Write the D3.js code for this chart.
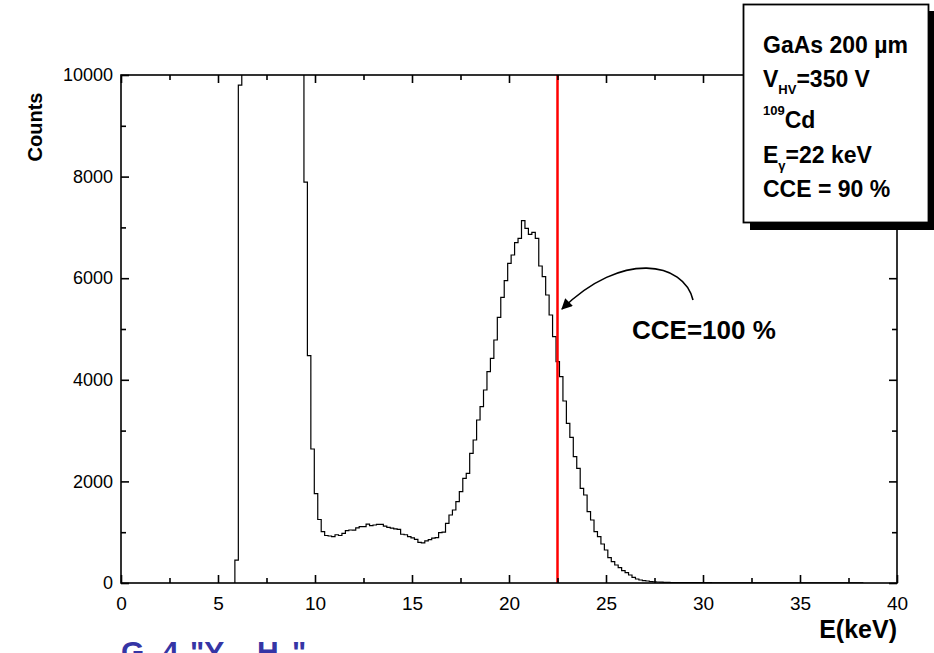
<!DOCTYPE html>
<html>
<head>
<meta charset="utf-8">
<script src="https://cdn.jsdelivr.net/npm/d3@7/dist/d3.min.js"></script>
<style>
  html, body { margin: 0; padding: 0; background: #ffffff; }
  svg { display: block; }
  text { font-family: "Liberation Sans", Arial, Helvetica, sans-serif; }
</style>
</head>
<body>
<svg id="chart" width="934" height="653"></svg>
<script>
// ---------------- data ----------------
const binStart = 5.87;      // keV, left edge of first bin
const binWidth = 0.178;     // keV
const counts = [
  450, 9800,
  14000, 21000, 30000, 38000, 45000, 50000, 52000, 50000, 46000, 41000,
  36000, 31000, 26000, 22000, 18500, 15500, 13000, 11000,
  7890, 4474, 2638, 1760, 1250, 1010, 935, 925, 912, 950,
  935, 978, 1030, 1043, 1040, 1085, 1108, 1108, 1160, 1130,
  1142, 1155, 1155, 1120, 1095, 1080, 1065, 1057, 960, 950,
  912, 890, 860, 800, 790, 830, 855, 885, 895, 990,
  1000, 1175, 1339, 1437, 1600, 1798, 2060, 2159, 2553, 2815,
  3209, 3471, 3799, 4160, 4423, 4783, 5230, 5624, 5951, 6293,
  6457, 6699, 6785, 7132, 6982, 6864, 6903, 6785, 6240, 6030,
  5669, 5276, 4849, 4356, 4061, 3583, 3143, 2868, 2486, 2258,
  1864, 1732, 1404, 1240, 1010, 912, 768, 650, 498, 419,
  354, 301, 242, 203, 157, 112, 79, 59, 45, 39,
  30, 25, 20, 16, 13, 11, 10, 9, 9, 8,
  8, 7, 7, 7, 6, 6, 6, 6, 5, 5,
  5, 5, 5, 4, 4, 4, 4, 4, 4, 4,
  3, 3, 3, 3, 3, 3, 3, 3, 3, 3,
  3, 3, 2, 2, 2, 2, 2, 2, 2, 2,
  2, 2, 2, 2, 2, 2, 2, 2, 2, 2,
  2, 2
];
const xMajor = [0, 5, 10, 15, 20, 25, 30, 35, 40];
const xMinor = [2.5, 7.5, 12.5, 17.5, 22.5, 27.5, 32.5, 37.5];
const yMajor = [0, 2000, 4000, 6000, 8000, 10000];
const yMinor = [1000, 3000, 5000, 7000, 9000];
const markerEnergy = 22.5;   // keV, red line (CCE = 100 %)
const legendLines = ["GaAs 200 µm", "V_HV=350 V", "^109Cd", "E_γ=22 keV", "CCE = 90 %"];
const arrowLabel = "CCE=100 %";
const xTitle = "E(keV)";
const yTitle = "Counts";
const captionParts = ["G", "4", "\"Y", "H", "\""];

// ---------------- layout ----------------
const svg = d3.select("#chart");
const L = 121, R = 897, T = 75, B = 583;
const x = d3.scaleLinear().domain([0, 40]).range([L, R]);
const y = d3.scaleLinear().domain([0, 10000]).range([B, T]);

const defs = svg.append("defs");
defs.append("clipPath").attr("id", "plotclip")
  .append("rect").attr("x", L).attr("y", T).attr("width", R - L).attr("height", B - T);

// histogram as step line
const pts = [[binStart, 0]];
counts.forEach((c, i) => pts.push([binStart + i * binWidth, c]));
pts.push([binStart + counts.length * binWidth, counts[counts.length - 1]]);
const line = d3.line()
  .x(d => x(d[0]))
  .y(d => y(d[1]))
  .curve(d3.curveStepAfter);
svg.append("path")
  .attr("clip-path", "url(#plotclip)")
  .attr("d", line(pts))
  .attr("fill", "none")
  .attr("stroke", "#000")
  .attr("stroke-width", 1.2);

// red marker line
svg.append("line")
  .attr("x1", x(markerEnergy)).attr("x2", x(markerEnergy))
  .attr("y1", T).attr("y2", B)
  .attr("stroke", "#ff0000").attr("stroke-width", 2.5);

// axes (inward ticks on all four sides)
function styleAxis(g, fs) {
  g.select(".domain").remove();
  g.selectAll(".tick line").attr("stroke", "#000").attr("stroke-width", 1.6);
  g.selectAll("text").attr("font-size", fs).attr("fill", "#000")
    .attr("font-family", "Liberation Sans, Arial, sans-serif");
}
const gx = svg.append("g").attr("transform", `translate(0,${B})`)
  .call(d3.axisBottom(x).tickValues(xMajor).tickSize(-8).tickPadding(14).tickFormat(d3.format("d")));
styleAxis(gx, 19);
const gxm = svg.append("g").attr("transform", `translate(0,${B})`)
  .call(d3.axisBottom(x).tickValues(xMinor).tickSize(-5).tickFormat(""));
styleAxis(gxm, 19);
const gxt = svg.append("g").attr("transform", `translate(0,${T})`)
  .call(d3.axisTop(x).tickValues(xMajor).tickSize(-8).tickFormat(""));
styleAxis(gxt, 19);
const gxtm = svg.append("g").attr("transform", `translate(0,${T})`)
  .call(d3.axisTop(x).tickValues(xMinor).tickSize(-5).tickFormat(""));
styleAxis(gxtm, 19);

const gy = svg.append("g").attr("transform", `translate(${L},0)`)
  .call(d3.axisLeft(y).tickValues(yMajor).tickSize(-8).tickPadding(8).tickFormat(d3.format("d")));
styleAxis(gy, 18);
const gym = svg.append("g").attr("transform", `translate(${L},0)`)
  .call(d3.axisLeft(y).tickValues(yMinor).tickSize(-5).tickFormat(""));
styleAxis(gym, 18);
const gyr = svg.append("g").attr("transform", `translate(${R},0)`)
  .call(d3.axisRight(y).tickValues(yMajor).tickSize(-8).tickFormat(""));
styleAxis(gyr, 18);
const gyrm = svg.append("g").attr("transform", `translate(${R},0)`)
  .call(d3.axisRight(y).tickValues(yMinor).tickSize(-5).tickFormat(""));
styleAxis(gyrm, 18);

// frame
svg.append("rect").attr("x", L).attr("y", T).attr("width", R - L).attr("height", B - T)
  .attr("fill", "none").attr("stroke", "#000").attr("stroke-width", 1.6);

// axis titles
svg.append("text").attr("x", R).attr("y", 638).attr("text-anchor", "end")
  .attr("font-size", 25).attr("font-weight", "bold").text(xTitle);
svg.append("text").attr("transform", "translate(42,127) rotate(-90)")
  .attr("text-anchor", "middle").attr("font-size", 20).attr("font-weight", "bold").text(yTitle);

// arrow annotation
defs.append("marker").attr("id", "ah")
  .attr("viewBox", "0 0 10 10").attr("refX", 9).attr("refY", 5)
  .attr("markerWidth", 16).attr("markerHeight", 11).attr("markerUnits", "userSpaceOnUse")
  .attr("orient", "auto")
  .append("path").attr("d", "M0,0 L10,5 L0,10 Z").attr("fill", "#000");
svg.append("path")
  .attr("d", "M693,300 C684,262 622,250 562,309")
  .attr("fill", "none").attr("stroke", "#000").attr("stroke-width", 1.6)
  .attr("marker-end", "url(#ah)");
svg.append("text").attr("x", 632).attr("y", 339).attr("font-size", 26)
  .attr("font-weight", "bold").text(arrowLabel);

// legend box with shadow
svg.append("rect").attr("x", 750).attr("y", 11).attr("width", 186).attr("height", 219).attr("fill", "#000");
svg.append("rect").attr("x", 743.5).attr("y", 4.5).attr("width", 185).attr("height", 218)
  .attr("fill", "#fff").attr("stroke", "#000").attr("stroke-width", 1.8);
const baselines = [53, 87, 128, 163, 197];
legendLines.forEach((s, i) => {
  const t = svg.append("text").attr("x", 763).attr("y", baselines[i])
    .attr("font-weight", "bold").attr("font-size", 23).attr("fill", "#000");
  if (s.startsWith("^")) {
    const m = s.slice(1).match(/^(\d+)(.*)$/);
    t.append("tspan").attr("font-size", 13).attr("dy", -13).text(m[1]);
    t.append("tspan").attr("dy", 13).text(m[2]);
  } else if (s.includes("_")) {
    const [a, rest] = s.split("_");
    const sub = rest.match(/^(HV|γ)(.*)$/);
    t.append("tspan").text(a);
    t.append("tspan").attr("font-size", 13).attr("dy", 7).text(sub[1]);
    t.append("tspan").attr("dy", -7).text(sub[2]);
  } else {
    t.text(s);
  }
});

// cut-off blue caption at the bottom edge (only its top is visible)
const capX = [121, 162, 190, 257, 292];
const cap = svg.append("text").attr("y", 662).attr("font-size", 30)
  .attr("font-weight", "bold").attr("fill", "#3535a5");
captionParts.forEach((p, i) => cap.append("tspan").attr("x", capX[i]).text(p));
</script>
</body>
</html>
